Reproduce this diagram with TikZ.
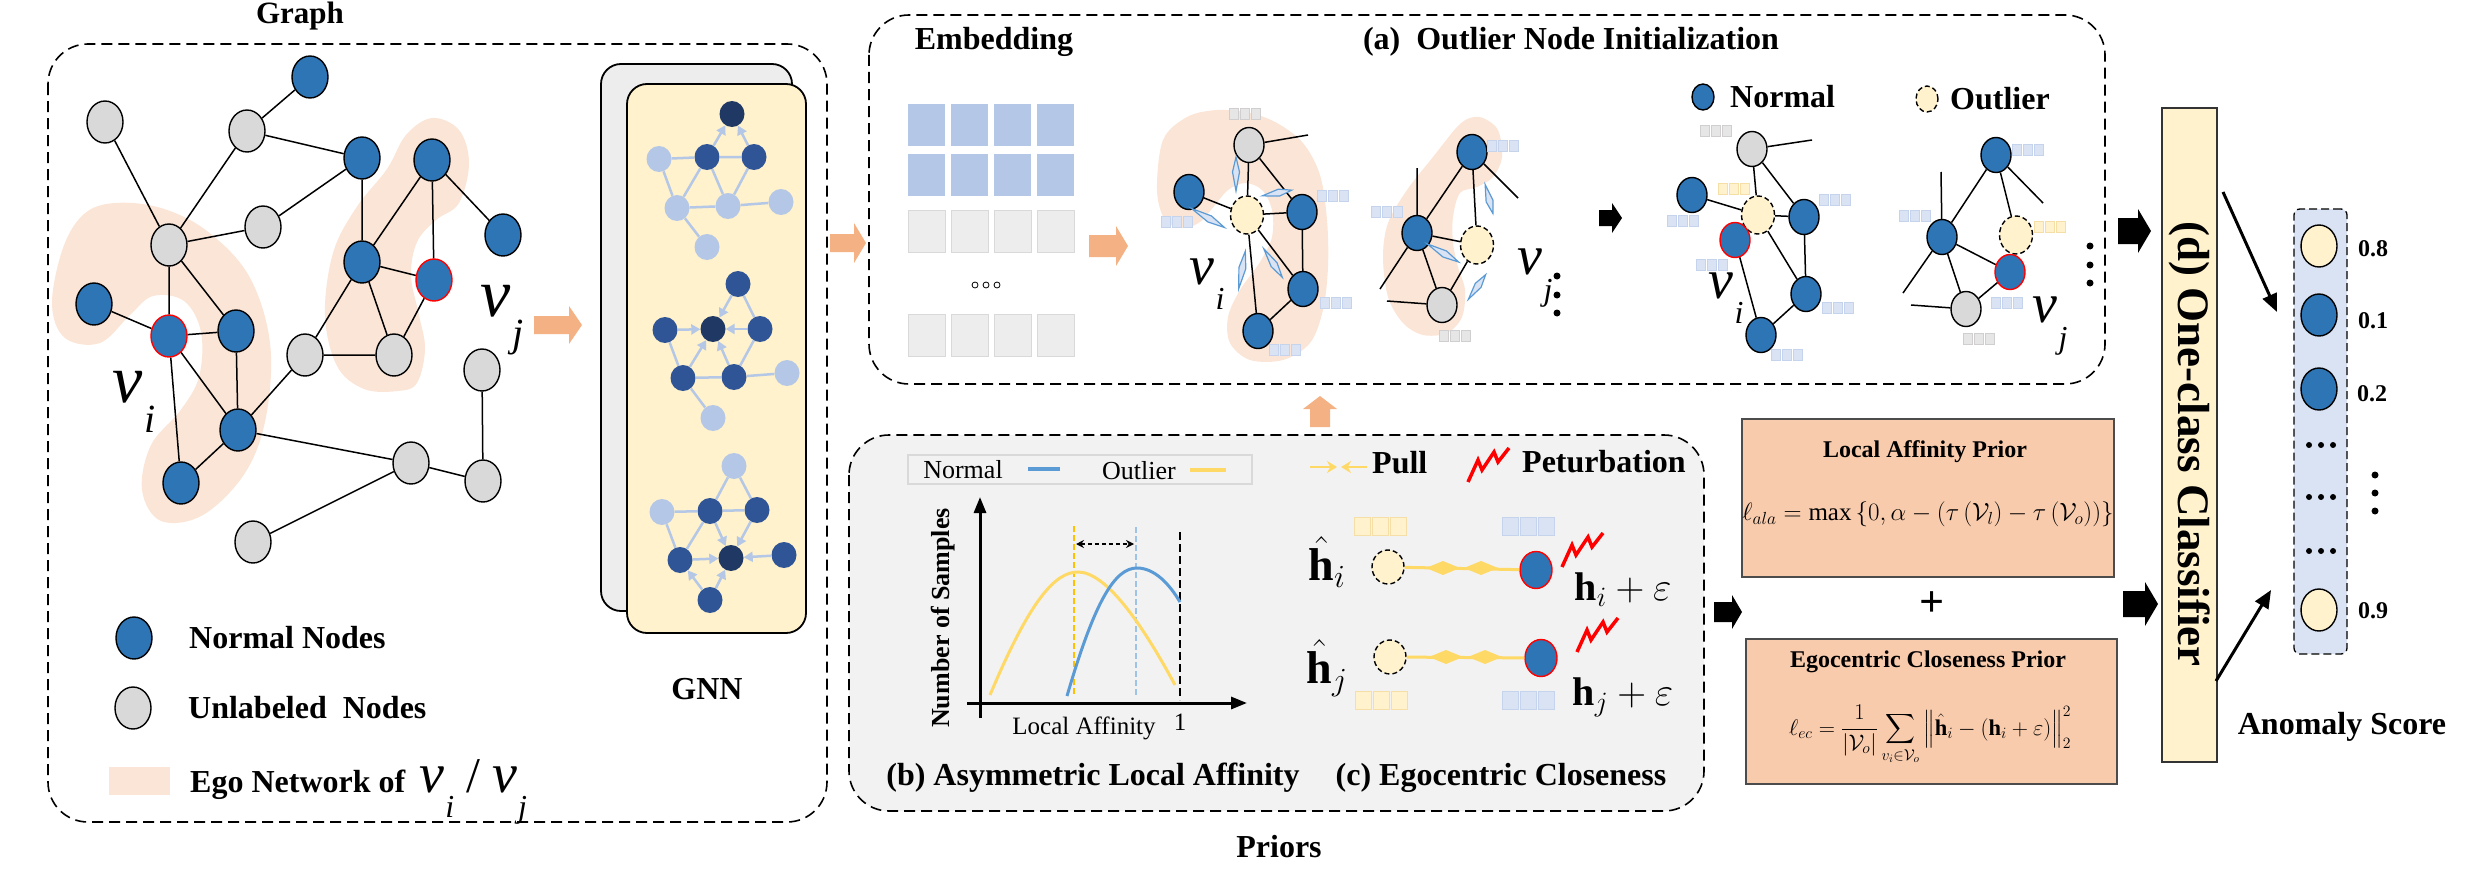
\RequirePackage{fix-cm}
\documentclass[tikz,border=0pt]{standalone}
\usepackage{amsmath}
\usepackage{fontspec}
\setmainfont{Liberation Serif}
\usetikzlibrary{shapes.geometric,arrows.meta}
\definecolor{nblue}{HTML}{2E75B6}
\definecolor{ngray}{HTML}{D9D9D9}
\definecolor{peach}{HTML}{FBE5D6}
\definecolor{oarrow}{HTML}{F4B183}
\definecolor{oyel}{HTML}{FFF2CC}
\definecolor{gback}{HTML}{EDEDED}
\definecolor{pgray}{HTML}{F2F2F2}
\definecolor{fbox}{HTML}{F8CBAD}
\definecolor{sblue}{HTML}{DAE3F3}
\definecolor{lblue}{HTML}{B4C7E7}
\definecolor{mblue}{HTML}{2F5597}
\definecolor{dblue}{HTML}{203864}
\definecolor{kblue}{HTML}{5B9BD5}
\definecolor{ylw}{HTML}{FFD966}
\definecolor{vgray}{HTML}{E7E6E6}
\definecolor{vgrayd}{HTML}{D0CECE}
\definecolor{dashy}{HTML}{FFC000}
\definecolor{dashb}{HTML}{9DC3E6}
\definecolor{vblued}{HTML}{C5D3EC}
\definecolor{vyeld}{HTML}{F5DFA6}

\newcommand\fs[1]{\fontsize{#1}{#1}\selectfont}
\newcommand\vsub[3]{{\fs{#1}\mdseries\itshape v\kern0.02em\raisebox{-0.45em}{\fs{#2}\mdseries\itshape #3}}}
\newcommand\harrow[7]{\fill[#1] (#2,{#4-#5}) -- ({#3-#7},{#4-#5}) -- ({#3-#7},{#4-#6}) -- (#3,#4) -- ({#3-#7},{#4+#6}) -- ({#3-#7},{#4+#5}) -- (#2,{#4+#5}) -- cycle;}
\newcommand\varrow[7]{\fill[#1] ({#2-#5},#3) -- ({#2-#5},{#4+#7}) -- ({#2-#6},{#4+#7}) -- (#2,#4) -- ({#2+#6},{#4+#7}) -- ({#2+#5},{#4+#7}) -- ({#2+#5},#3) -- cycle;}
\newcommand\vecs[5]{\foreach \kk in {-1,0,1}{\filldraw[fill=#4,draw=#5,line width=0.8pt] ({#1+\kk*#3-#3/2+1},{#2-#3/2}) rectangle ({#1+\kk*#3+#3/2-1},{#2+#3/2});}}
\newcommand\kite[4]{\filldraw[fill=sblue,draw=kblue,line width=1.2pt,rotate around={#3:(#1,#2)}] ({#1-#4/2},#2) -- ({#1+2},{#2-3.5}) -- ({#1+#4/2},#2) -- ({#1+2},{#2+3.5}) -- cycle;}
\newcommand\spindle[2]{\fill[ylw] ({#1-17},#2) -- ({#1},{#2-7}) -- ({#1+17},#2) -- ({#1},{#2+7}) -- cycle;}
\newcommand\zig[2]{\draw[red,line width=3.5pt] (#1,#2) -- ({#1+10},{#2-22}) -- ({#1+14},{#2-12}) -- ({#1+26},{#2-30}) -- ({#1+30},{#2-20}) -- ({#1+41},{#2-34});}

\begin{document}
\begin{tikzpicture}[x=1pt,y=-1pt,
  panel/.style={draw=black,dash pattern=on 11pt off 6pt,line width=1.6pt,rounded corners=40pt},
  gn/.style={ellipse,draw=black,line width=1.4pt,inner sep=0pt,minimum width=36pt,minimum height=42pt},
  nrm/.style={gn,fill=nblue},
  unl/.style={gn,fill=ngray},
  anom/.style={gn,fill=nblue,draw=red},
  outl/.style={gn,fill=oyel,dash pattern=on 5pt off 3pt},
  sm/.style={minimum width=30pt,minimum height=35pt},
  lnk/.style={draw=black,line width=1.5pt},
  gnd/.style={ellipse,inner sep=0pt,minimum width=25pt,minimum height=26pt},
  gl/.style={gnd,fill=lblue}, gm/.style={gnd,fill=mblue}, gd/.style={gnd,fill=dblue},
  ge/.style={draw=lblue,line width=2.5pt},
  ga/.style={draw=lblue,line width=2.5pt,-{Triangle[length=9pt,width=10pt]}},
  lbl/.style={font=\fs{32}\bfseries,inner sep=0pt},
  blk/.style={draw=black,line width=3pt,-{Triangle[length=18pt,width=15pt]}},
  fbx/.style={draw=black!70,fill=fbox,line width=1.2pt,inner sep=0pt},
  dot/.style={circle,fill=black,inner sep=0pt,minimum size=7pt}
]
\useasboundingbox (0,0) rectangle (2479,883);

%================ GRAPH PANEL ================
\draw[panel] (48,44) rectangle (827,822);
\node[lbl,font=\fs{31}\bfseries] (tgraph) at (300,16) {Graph};

\fill[peach] plot[smooth cycle,tension=0.6] coordinates {(52,304) (63,248) (84,214) (115,203) (161,208) (207,231) (249,276) (270,343) (266,417) (245,473) (203,515) (161,521) (142,490) (151,445) (180,411) (199,377) (201,332) (184,301) (153,296) (130,315) (100,343) (65,338)};
\fill[peach] plot[smooth cycle,tension=0.6] coordinates {(432,118) (459,130) (469,163) (459,203) (436,220) (417,242) (411,276) (419,315) (425,349) (417,383) (398,391) (364,389) (337,366) (325,315) (333,253) (356,208) (387,169) (406,135)};

\node[nrm] (b1) at (310,77) {};
\node[unl] (g1) at (105,122) {};
\node[unl] (g2) at (247,131) {};
\node[nrm] (b2) at (362,158) {};
\node[nrm] (b3) at (432,160) {};
\node[unl] (g3) at (263,227) {};
\node[nrm] (b4) at (503,235) {};
\node[unl] (g4) at (169,245) {};
\node[nrm] (b5) at (362,262) {};
\node[anom] (rj) at (434,280) {};
\node[nrm] (b6) at (94,304) {};
\node[anom] (ri) at (169,336) {};
\node[nrm] (b7) at (236,331) {};
\node[unl] (g5) at (305,355) {};
\node[unl] (g6) at (394,355) {};
\node[unl] (g7) at (482,370) {};
\node[nrm] (b8) at (238,430) {};
\node[unl] (g8) at (411,463) {};
\node[unl] (g9) at (483,481) {};
\node[nrm] (b9) at (181,483) {};
\node[unl] (g10) at (253,542) {};
\draw[lnk] (b1)--(g2) (g1)--(g4) (g2)--(g4) (g2)--(b2) (g3)--(b2) (g3)--(g4) (b2)--(b5) (b3)--(b5) (b3)--(rj) (b3)--(b4)
  (g4)--(ri) (g4)--(b7) (b6)--(ri) (ri)--(b7) (ri)--(b8) (b7)--(b8) (ri)--(b9) (b8)--(b9) (b8)--(g5) (g5)--(b5)
  (g5)--(g6) (b5)--(rj) (b5)--(g6) (g6)--(rj) (b8)--(g8) (g8)--(g9) (g9)--(g7) (g8)--(g10);
\node[inner sep=0pt] (lvi) at (134,402) {\vsub{68}{40}{i}};
\node[inner sep=0pt] (lvj) at (502,320) {\vsub{68}{40}{j}};

% legend
\node[nrm] (lgn) at (134,638) {};
\node[unl] (lgu) at (133,708) {};
\fill[peach] (109,767) rectangle (170,795);
\node[lbl,anchor=west] (tn) at (189,638) {Normal Nodes};
\node[lbl,anchor=west] (tu) at (188,708) {Unlabeled\ \ Nodes};
\node[lbl,anchor=base west] (te) at (190,792) {Ego Network of\hspace{14pt}\vsub{56}{32}{i}\hspace{12pt}{\fs{50}\mdseries/}\hspace{12pt}\vsub{56}{32}{j}};

\harrow{oarrow}{534}{582}{325}{9}{19}{13}

% GNN card
\draw[fill=gback,line width=1.8pt,rounded corners=20pt] (601,64) rectangle (792,611);
\draw[fill=oyel,line width=1.8pt,rounded corners=20pt] (627,84) rectangle (806,633);
\node[lbl] (tgnn) at (707,689) {GNN};
% gnn graph 1
\node[gd] (n1d) at (732,114) {};
\node[gl] (n1a) at (659,159) {};
\node[gm] (n1b) at (707,157) {};
\node[gm] (n1c) at (754,157) {};
\node[gl] (n1e) at (677,208) {};
\node[gl] (n1f) at (728,206) {};
\node[gl] (n1g) at (781,202) {};
\node[gl] (n1h) at (707,247) {};
\draw[ge] (n1a)--(n1b) (n1b)--(n1c) (n1b)--(n1e) (n1b)--(n1f) (n1c)--(n1f) (n1e)--(n1f) (n1f)--(n1g) (n1a)--(n1e) (n1e)--(n1h);
\draw[ga] (n1b)--(n1d);
\draw[ga] (n1c)--(n1d);
% gnn graph 2
\node[gm] (n2a) at (738,284) {};
\node[gd] (n2d) at (713,329) {};
\node[gm] (n2b) at (665,330) {};
\node[gm] (n2c) at (760,329) {};
\node[gm] (n2e) at (683,378) {};
\node[gm] (n2f) at (734,377) {};
\node[gl] (n2g) at (787,373) {};
\node[gl] (n2h) at (713,418) {};
\draw[ge] (n2a)--(n2c) (n2b)--(n2e) (n2e)--(n2f) (n2f)--(n2c) (n2f)--(n2g) (n2e)--(n2h);
\draw[ga] (n2a)--(n2d);
\draw[ga] (n2b)--(n2d);
\draw[ga] (n2c)--(n2d);
\draw[ga] (n2e)--(n2d);
\draw[ga] (n2f)--(n2d);
% gnn graph 3
\node[gl] (n3a) at (734,466) {};
\node[gl] (n3b) at (662,512) {};
\node[gm] (n3c) at (710,511) {};
\node[gm] (n3e) at (757,510) {};
\node[gm] (n3f) at (680,560) {};
\node[gd] (n3d) at (731,558) {};
\node[gm] (n3g) at (784,555) {};
\node[gm] (n3h) at (710,600) {};
\draw[ge] (n3a)--(n3c) (n3a)--(n3e) (n3b)--(n3c) (n3c)--(n3e) (n3b)--(n3f) (n3c)--(n3f);
\draw[ga] (n3c)--(n3d);
\draw[ga] (n3e)--(n3d);
\draw[ga] (n3f)--(n3d);
\draw[ga] (n3g)--(n3d);
\draw[ga] (n3h)--(n3d);
\draw[ga] (n3h)--(n3f);

\harrow{oarrow}{830}{866}{243}{9}{20}{12}

%================ (a) PANEL ================
\draw[panel] (869,15) rectangle (2105,384);
\node[lbl] (temb) at (994,42) {Embedding};
\node[lbl] (ta) at (1571,42) {(a)\ \ Outlier Node Initialization};
\foreach \xa in {908,951,994,1037}{
  \fill[lblue] (\xa,104) rectangle ({\xa+37},146);
  \fill[lblue] (\xa,154) rectangle ({\xa+37},196);
  \filldraw[fill=gback,draw=ngray,line width=1pt] (\xa,210) rectangle ({\xa+37},252);
  \filldraw[fill=gback,draw=ngray,line width=1pt] (\xa,314) rectangle ({\xa+37},356);
}
\foreach \xa in {975,986,997}{\draw[line width=0.8pt] (\xa,285) circle (3);}
\harrow{oarrow}{1089}{1128}{246}{11}{20}{12}

% ego vi with kites
\fill[peach] plot[smooth cycle,tension=0.55] coordinates {(1157,190) (1163,140) (1187,117) (1217,110) (1250,113) (1277,123) (1303,143) (1320,175) (1327,220) (1328,267) (1323,310) (1310,343) (1283,360) (1250,360) (1230,343) (1228,317) (1240,290) (1260,262) (1272,237) (1272,210) (1262,190) (1245,183) (1228,190) (1215,205) (1200,222) (1183,228) (1165,220)};
\fill[peach] plot[smooth cycle,tension=0.55] coordinates {(1483,118) (1498,130) (1502,157) (1493,177) (1477,187) (1460,193) (1453,217) (1453,243) (1458,267) (1465,290) (1462,317) (1447,333) (1423,335) (1403,323) (1388,297) (1383,257) (1388,223) (1407,190) (1433,157) (1457,127) (1470,118)};
\node[unl,sm] (aig) at (1249,145) {};
\node[nrm,sm] (ail) at (1189,192) {};
\node[outl,minimum width=33pt,minimum height=38pt] (aiy) at (1247,215) {};
\node[nrm,sm] (air) at (1302,212) {};
\node[nrm,sm] (ailr) at (1303,289) {};
\node[nrm,sm] (aib) at (1258,331) {};
\coordinate (aif) at (1308,135);
\draw[lnk] (aig)--(aif) (aig)--(aiy) (aig)--(air) (ail)--(aiy) (aiy)--(air) (aiy)--(ailr) (aiy)--(aib) (air)--(ailr) (ailr)--(aib);
\kite{1236}{174}{90}{34}
\kite{1277}{193}{11}{30}
\kite{1208}{218}{-30}{38}
\kite{1242}{270}{80}{38}
\kite{1273}{263}{-57}{34}
\vecs{1245}{114}{11}{vgray}{vgrayd}
\vecs{1177}{222}{11}{sblue}{vblued}
\vecs{1333}{196}{11}{sblue}{vblued}
\vecs{1336}{303}{11}{sblue}{vblued}
\vecs{1285}{350}{11}{sblue}{vblued}
\node[inner sep=0pt] (avi) at (1207,284) {\vsub{56}{32}{i}};

\node[nrm,sm] (ajt) at (1472,152) {};
\node[nrm,sm] (ajl) at (1417,233) {};
\node[outl,minimum width=33pt,minimum height=38pt] (ajy) at (1477,245) {};
\node[unl,sm] (ajg) at (1442,305) {};
\coordinate (ajf1) at (1417,168);
\coordinate (ajf2) at (1518,198);
\coordinate (ajf3) at (1380,289);
\coordinate (ajf4) at (1387,301);
\draw[lnk] (ajt)--(ajl) (ajt)--(ajy) (ajt)--(ajf2) (ajl)--(ajf1) (ajl)--(ajy) (ajl)--(ajg) (ajl)--(ajf3) (ajg)--(ajf4) (ajg)--(ajy);
\kite{1489}{199}{-75}{30}
\kite{1443}{253}{-30}{36}
\kite{1477}{287}{55}{30}
\vecs{1503}{146}{11}{sblue}{vblued}
\vecs{1387}{212}{11}{sblue}{vblued}
\vecs{1455}{336}{11}{vgray}{vgrayd}
\node[inner sep=0pt] (avj) at (1535,278) {\vsub{56}{32}{j}};
\node[dot] (d1a) at (1557,276) {};
\node[dot] (d1b) at (1557,295) {};
\node[dot] (d1c) at (1557,313) {};

\harrow{black}{1599}{1622}{218}{8}{15}{10}

% legend (a)
\node[gn,fill=nblue,minimum width=22pt,minimum height=26pt] (lan) at (1703,97) {};
\node[lbl,anchor=west] (tan) at (1730,97) {Normal};
\node[gn,fill=oyel,dash pattern=on 5pt off 3pt,minimum width=22pt,minimum height=26pt] (lao) at (1927,99) {};
\node[lbl,anchor=west] (tao) at (1950,99) {Outlier};

% vi'
\node[unl,sm] (big) at (1752,149) {};
\node[nrm,sm] (bil) at (1692,195) {};
\node[outl,minimum width=33pt,minimum height=38pt] (biy) at (1758,215) {};
\node[anom,sm] (bired) at (1735,240) {};
\node[nrm,sm] (bir) at (1804,217) {};
\node[nrm,sm] (bilr) at (1806,294) {};
\node[nrm,sm] (bib) at (1761,335) {};
\coordinate (bif) at (1812,140);
\draw[lnk] (big)--(bif) (big)--(biy) (big)--(bir) (bil)--(biy) (biy)--(bir) (biy)--(bilr) (bired)--(bib) (bir)--(bilr) (bilr)--(bib);
\vecs{1716}{131}{11}{vgray}{vgrayd}
\vecs{1734}{189}{11}{oyel}{vyeld}
\vecs{1683}{221}{11}{sblue}{vblued}
\vecs{1835}{200}{11}{sblue}{vblued}
\vecs{1712}{265}{11}{sblue}{vblued}
\vecs{1838}{308}{11}{sblue}{vblued}
\vecs{1787}{355}{11}{sblue}{vblued}
\node[inner sep=0pt] (bvi) at (1726,298) {\vsub{56}{32}{i}};

% vj'
\node[nrm,sm] (bjt) at (1996,155) {};
\node[nrm,sm] (bjl) at (1942,237) {};
\node[outl,minimum width=33pt,minimum height=38pt] (bjy) at (2016,235) {};
\node[anom,sm] (bjred) at (2010,272) {};
\node[unl,sm] (bjg) at (1966,309) {};
\coordinate (bjf1) at (2043,203);
\coordinate (bjf2) at (1941,172);
\coordinate (bjf3) at (1903,293);
\coordinate (bjf4) at (1911,305);
\draw[lnk] (bjt)--(bjl) (bjt)--(bjy) (bjt)--(bjf1) (bjl)--(bjf2) (bjl)--(bjred) (bjl)--(bjg) (bjl)--(bjf3) (bjg)--(bjf4) (bjg)--(bjred);
\vecs{2028}{150}{11}{sblue}{vblued}
\vecs{1915}{216}{11}{sblue}{vblued}
\vecs{2050}{227}{11}{oyel}{vyeld}
\vecs{2007}{303}{11}{sblue}{vblued}
\vecs{1979}{339}{11}{vgray}{vgrayd}
\node[inner sep=0pt] (bvj) at (2050,326) {\vsub{56}{32}{j}};
\node[dot] (d2a) at (2090,246) {};
\node[dot] (d2b) at (2090,265) {};
\node[dot] (d2c) at (2090,283) {};

\harrow{black}{2118}{2151}{231}{13}{22}{13}

%================ PRIORS PANEL ================
\varrow{oarrow}{1320}{427}{396}{10}{17}{13}
\draw[panel,fill=pgray] (849,435) rectangle (1704,811);
\filldraw[fill=pgray,draw=ngray,line width=1.2pt] (908,455) rectangle (1252,484);
\node[inner sep=0pt,font=\fs{26}] (lgno) at (963,470) {Normal};
\draw[kblue,line width=4pt] (1028,469) -- (1060,469);
\node[inner sep=0pt,font=\fs{26}] (lgou) at (1139,471) {Outlier};
\draw[ylw,line width=4pt] (1190,470) -- (1226,470);
% axes
\draw[line width=3pt,-{Triangle[length=16pt,width=12pt]}] (980,718) -- (980,497);
\draw[line width=3pt,-{Triangle[length=16pt,width=12pt]}] (967,703) -- (1247,703);
\node[inner sep=0pt,rotate=90,font=\fs{26}\bfseries] (tns) at (943,618) {Number of Samples};
\node[inner sep=0pt,font=\fs{25}] (tla) at (1084,728) {Local Affinity};
\node[inner sep=0pt,font=\fs{25}] (tone) at (1180,722) {1};
\draw[dashy,dash pattern=on 6pt off 3pt,line width=1.2pt] (1074,526) -- (1074,696);
\draw[dashb,dash pattern=on 6pt off 3pt,line width=1.2pt] (1136,527) -- (1136,696);
\draw[black,dash pattern=on 8pt off 4pt,line width=1.2pt] (1180,532) -- (1180,700);
\draw[ylw,line width=3pt] (990,695) .. controls (1030,600) and (1055,572) .. (1078,572) .. controls (1105,572) and (1140,620) .. (1175,685);
\draw[kblue,line width=3pt] (1067,696) .. controls (1095,600) and (1115,568) .. (1137,568) .. controls (1155,568) and (1170,585) .. (1180,602);
\draw[dash pattern=on 4pt off 3pt,line width=1.5pt,{Stealth[length=8pt,width=8pt]}-{Stealth[length=8pt,width=8pt]}] (1076,544) -- (1134,544);

% pull / perturbation legend
\draw[ylw,line width=2.5pt,-{Stealth[length=10pt,width=12pt]}] (1310,467) -- (1337,467);
\draw[ylw,line width=2.5pt,-{Stealth[length=10pt,width=12pt]}] (1367,467) -- (1341,467);
\node[lbl,anchor=west] (tpull) at (1372,463) {Pull};
\zig{1468}{482}
\node[lbl,anchor=west] (tpet) at (1522,462) {Peturbation};

% egocentric closeness
\node[inner sep=0pt,font=\fs{46}] (thi) at (1327,562) {$\hat{\mathbf{h}}_{i}$};
\node[inner sep=0pt,font=\fs{46}] (thj) at (1327,668) {$\hat{\mathbf{h}}_{j}$};
\node[gn,fill=oyel,dash pattern=on 5pt off 3pt,minimum width=32pt,minimum height=34pt] (hyi) at (1388,567) {};
\node[gn,fill=nblue,draw=red,minimum width=32pt,minimum height=37pt] (hbi) at (1536,570) {};
\node[gn,fill=oyel,dash pattern=on 5pt off 3pt,minimum width=32pt,minimum height=34pt] (hyj) at (1390,657) {};
\node[gn,fill=nblue,draw=red,minimum width=32pt,minimum height=37pt] (hbj) at (1541,658) {};
\draw[ylw,line width=3pt] (hyi) -- (hbi);
\draw[ylw,line width=3pt] (hyj) -- (hbj);
\spindle{1443}{568}
\spindle{1481}{568}
\spindle{1446}{657}
\spindle{1485}{657}
\vecs{1380}{526}{18}{oyel}{vyeld}
\vecs{1528}{526}{18}{sblue}{vblued}
\vecs{1381}{700}{18}{oyel}{vyeld}
\vecs{1528}{700}{18}{sblue}{vblued}
\zig{1562}{567}
\zig{1577}{652}
\node[inner sep=0pt,font=\fs{40}] (thie) at (1623,590) {$\mathbf{h}_{i}+\varepsilon$};
\node[inner sep=0pt,font=\fs{40}] (thje) at (1623,697) {$\mathbf{h}_{j}+\varepsilon$};

\node[lbl] (tb) at (1093,778) {(b) Asymmetric Local Affinity};
\node[lbl] (tc) at (1501,778) {(c) Egocentric Closeness};
\node[lbl] (tpri) at (1279,847) {Priors};

\harrow{black}{1714}{1742}{612}{10}{17}{10}

%================ PRIOR FORMULAS ================
\node[fbx,minimum width=372pt,minimum height=158pt] (box1) at (1928,498) {};
\node[inner sep=0pt,font=\fs{24}\bfseries] (tlap) at (1925,452) {Local Affinity Prior};
\node[inner sep=0pt,font=\fs{25}] (f1) at (1928,514) {$\ell_{ala}=\max\left\{0,\alpha-\left(\tau\left(\mathcal{V}_l\right)-\tau\left(\mathcal{V}_o\right)\right)\right\}$};
\node[inner sep=0pt,font=\fs{44}\bfseries] (tplus) at (1932,604) {+};
\node[fbx,minimum width=371pt,minimum height=145pt] (box2) at (1931.5,711.5) {};
\node[inner sep=0pt,font=\fs{24}\bfseries] (tecp) at (1928,662) {Egocentric Closeness Prior};
\node[inner sep=0pt,font=\fs{22.5}] (f2) at (1930,735) {$\displaystyle\ell_{ec}=\frac{1}{\left|\mathcal{V}_o\right|}\sum_{v_i\in\mathcal{V}_o}\left\|\hat{\mathbf{h}}_i-\left(\mathbf{h}_i+\varepsilon\right)\right\|_2^2$};

\harrow{black}{2123}{2158}{604}{13}{22}{13}

%================ CLASSIFIER & SCORES ================
\node[draw=black!80,fill=oyel,line width=1.5pt,minimum width=55pt,minimum height=654pt,inner sep=0pt] (cls) at (2189.5,435) {};
\node[inner sep=0pt,rotate=-90,font=\fs{45}\bfseries] (tcls) at (2190,444) {(d) One-class Classifier};
\node[draw=black,fill=sblue,dash pattern=on 8pt off 4pt,line width=1.3pt,rounded corners=6pt,minimum width=53pt,minimum height=445pt,inner sep=0pt] (scol) at (2320.5,431.5) {};
\node[gn,fill=oyel] (s1) at (2319,246) {};
\node[nrm] (s2) at (2319,315) {};
\node[nrm] (s3) at (2319,389) {};
\node[gn,fill=oyel] (s4) at (2319,610) {};
\foreach \yy in {445,497,551}{\foreach \xx in {2309,2321,2333}{\fill (\xx,\yy) circle (3);}}
\node[inner sep=0pt,font=\fs{24}\bfseries] (sc1) at (2373,249) {0.8};
\node[inner sep=0pt,font=\fs{24}\bfseries] (sc2) at (2373,321) {0.1};
\node[inner sep=0pt,font=\fs{24}\bfseries] (sc3) at (2372,394) {0.2};
\node[inner sep=0pt,font=\fs{24}\bfseries] (sc4) at (2373,611) {0.9};
\node[dot] (d3a) at (2375,475) {};
\node[dot] (d3b) at (2375,493) {};
\node[dot] (d3c) at (2375,511) {};
\coordinate (c1s) at (2223,192);
\coordinate (c1e) at (2277,312);
\coordinate (c2s) at (2216,681);
\coordinate (c2e) at (2271,590);
\draw[blk] (c1s) -- (c1e);
\draw[blk] (c2s) -- (c2e);
\node[lbl] (tanom) at (2342,727) {Anomaly Score};
\end{tikzpicture}
\end{document}
